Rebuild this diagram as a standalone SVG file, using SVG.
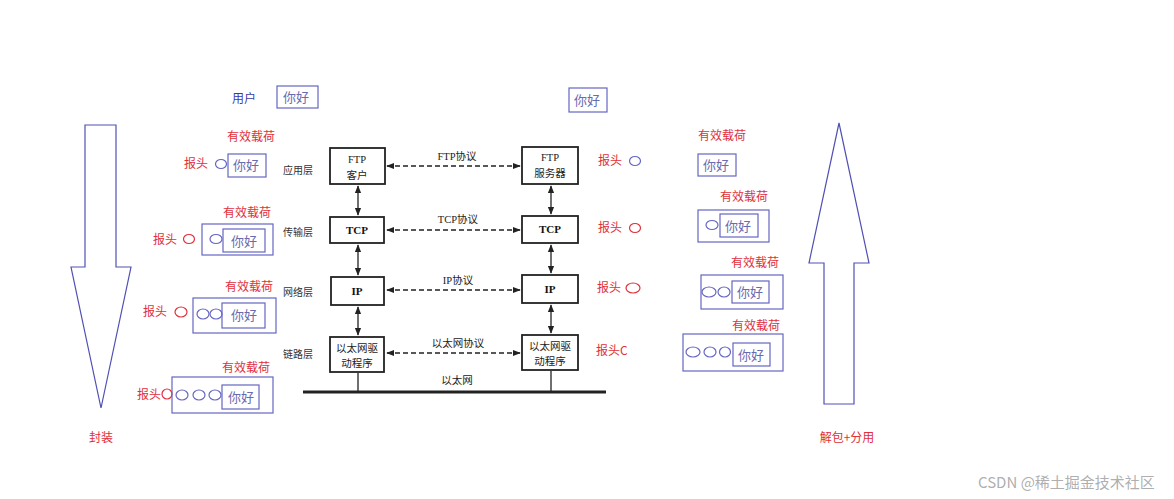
<svg xmlns="http://www.w3.org/2000/svg" width="1174" height="499" viewBox="0 0 1174 499">
<defs>
<marker id="ah" viewBox="0 0 10 10" refX="9" refY="5" markerWidth="8" markerHeight="8" markerUnits="userSpaceOnUse" orient="auto-start-reverse">
<path d="M0,1 L10,5 L0,9 Z" fill="#222"/>
</marker>
</defs>
<style>
.bg{fill:#fff}
.red{font-family:"Noto Sans CJK SC","Liberation Sans",sans-serif;font-size:12px;fill:#e0303c}
.blue{font-family:"Noto Sans CJK SC","Liberation Sans",sans-serif;font-size:12px;fill:#3a3aa8}
.ni{font-family:"Noto Sans CJK SC","Liberation Serif",serif;font-size:13px;fill:#6a6ab0}
.pbox{fill:none;stroke:#6666c4;stroke-width:1.2}
.ov{fill:none;stroke:#6666c4;stroke-width:1.2}
.ovr{fill:none;stroke:#e0303c;stroke-width:1.2}
.big{fill:#fff;stroke:#5050b4;stroke-width:1.2}
.lay{font-family:"Noto Sans CJK SC","Liberation Serif",serif;font-size:10px;fill:#333}
.box{fill:#fff;stroke:#222;stroke-width:1.8}
.bt{font-family:"Liberation Serif","Noto Sans CJK SC",serif;font-size:10.5px;fill:#222;text-anchor:middle}
.bb{font-family:"Liberation Serif","Noto Sans CJK SC",serif;font-size:11px;font-weight:bold;fill:#111;text-anchor:middle}
.pl{font-family:"Liberation Serif","Noto Sans CJK SC",serif;font-size:10.5px;fill:#222;text-anchor:middle}
.dash{stroke:#222;stroke-width:1.3;stroke-dasharray:5,3;fill:none}
.solid{stroke:#222;stroke-width:1.3;fill:none}
.wm{font-family:"Noto Sans CJK SC","Liberation Sans",sans-serif;font-size:15px;fill:#999;fill-opacity:0.8}
</style>
<rect class="bg" width="1174" height="499"/>

<g id="encap-arrow">
<path class="big" d="M85,125 L116,125 L116,267 L131,267 L101,408 L71,267 L85,267 Z"/>
<text class="red" x="101" y="442" text-anchor="middle">封装</text>
</g>
<g id="decap-arrow">
<path class="big" d="M839,123 L869,263 L854,263 L854,404 L824,404 L824,263 L809,263 Z"/>
<text class="red" x="847" y="442" text-anchor="middle">解包+分用</text>
</g>

<g id="user">
<text class="blue" x="232" y="103">用户</text>
<rect class="pbox" x="277" y="86" width="41" height="22"/>
<text class="ni" x="283" y="102">你好</text>
</g>
<g id="right-top">
<rect class="pbox" x="569" y="88" width="38" height="24"/>
<text class="ni" x="574" y="105">你好</text>
</g>

<g id="left-app">
<text class="red" x="227" y="141">有效载荷</text>
<text class="red" x="184" y="168">报头</text>
<ellipse class="ov" cx="221" cy="164" rx="5.5" ry="4.5"/>
<rect class="pbox" x="228" y="154" width="38" height="23"/>
<text class="ni" x="233" y="170">你好</text>
</g>
<g id="left-tcp">
<text class="red" x="223" y="217">有效载荷</text>
<text class="red" x="153" y="244">报头</text>
<ellipse class="ovr" cx="189" cy="239" rx="5.5" ry="4.5"/>
<rect class="pbox" x="202" y="224" width="71" height="31"/>
<ellipse class="ov" cx="216" cy="239" rx="6" ry="4.5"/>
<rect class="pbox" x="223" y="229" width="42" height="23"/>
<text class="ni" x="231" y="246">你好</text>
</g>
<g id="left-ip">
<text class="red" x="225" y="291">有效载荷</text>
<text class="red" x="143" y="316">报头</text>
<ellipse class="ovr" cx="181" cy="312" rx="6" ry="5"/>
<rect class="pbox" x="193" y="298" width="83" height="35"/>
<ellipse class="ov" cx="203" cy="314" rx="6" ry="5"/>
<ellipse class="ov" cx="216" cy="314" rx="6" ry="5"/>
<rect class="pbox" x="222" y="303" width="43" height="25"/>
<text class="ni" x="231" y="320">你好</text>
</g>
<g id="left-link">
<text class="red" x="222" y="372">有效载荷</text>
<text class="red" x="137" y="399">报头</text>
<ellipse class="ovr" cx="167" cy="394" rx="5" ry="5"/>
<rect class="pbox" x="172" y="377" width="101" height="36"/>
<ellipse class="ov" cx="182" cy="395" rx="6" ry="5"/>
<ellipse class="ov" cx="199" cy="395" rx="6" ry="5"/>
<ellipse class="ov" cx="215" cy="395" rx="6" ry="5"/>
<rect class="pbox" x="222" y="385" width="37" height="24"/>
<text class="ni" x="228" y="402">你好</text>
</g>

<g id="right-app">
<text class="red" x="698" y="140">有效载荷</text>
<text class="red" x="598" y="165">报头</text>
<ellipse class="ov" cx="635" cy="161" rx="5.5" ry="4.5"/>
<rect class="pbox" x="698" y="154" width="38" height="22"/>
<text class="ni" x="703" y="170">你好</text>
</g>
<g id="right-tcp">
<text class="red" x="720" y="201">有效载荷</text>
<text class="red" x="598" y="232">报头</text>
<ellipse class="ovr" cx="635" cy="228" rx="5.5" ry="4.5"/>
<rect class="pbox" x="698" y="210" width="71" height="32"/>
<ellipse class="ov" cx="712" cy="225" rx="6" ry="4.5"/>
<rect class="pbox" x="720" y="214" width="38" height="23"/>
<text class="ni" x="725" y="231">你好</text>
</g>
<g id="right-ip">
<text class="red" x="731" y="267">有效载荷</text>
<text class="red" x="597" y="292">报头</text>
<ellipse class="ovr" cx="633" cy="288" rx="7" ry="5"/>
<rect class="pbox" x="701" y="275" width="82" height="34"/>
<ellipse class="ov" cx="709" cy="292" rx="7" ry="5"/>
<ellipse class="ov" cx="724" cy="292" rx="6" ry="5"/>
<rect class="pbox" x="732" y="281" width="37" height="22"/>
<text class="ni" x="737" y="297">你好</text>
</g>
<g id="right-link">
<text class="red" x="732" y="330">有效载荷</text>
<text class="red" x="596" y="355">报头C</text>
<rect class="pbox" x="683" y="334" width="100" height="37"/>
<ellipse class="ov" cx="693" cy="352" rx="7" ry="5"/>
<ellipse class="ov" cx="710" cy="352" rx="6" ry="5"/>
<ellipse class="ov" cx="725" cy="352" rx="5.5" ry="5"/>
<rect class="pbox" x="733" y="343" width="37" height="23"/>
<text class="ni" x="738" y="360">你好</text>
</g>

<g id="layer-labels">
<text class="lay" x="283" y="174">应用层</text>
<text class="lay" x="283" y="236">传输层</text>
<text class="lay" x="283" y="296">网络层</text>
<text class="lay" x="283" y="358">链路层</text>
</g>

<g id="ftp-client">
<rect class="box" x="330" y="148" width="55" height="36"/>
<text class="bt" x="357" y="163">FTP</text>
<text class="bt" x="357" y="179">客户</text>
</g>
<g id="tcp-client">
<rect class="box" x="330" y="217" width="54" height="26"/>
<text class="bb" x="357" y="234">TCP</text>
</g>
<g id="ip-client">
<rect class="box" x="331" y="277" width="53" height="28"/>
<text class="bb" x="357" y="295">IP</text>
</g>
<g id="eth-client">
<rect class="box" x="330" y="337" width="54" height="35"/>
<text class="bt" x="357" y="352">以太网驱</text>
<text class="bt" x="357" y="367">动程序</text>
</g>
<g id="ftp-server">
<rect class="box" x="522" y="147" width="56" height="37"/>
<text class="bt" x="550" y="161">FTP</text>
<text class="bt" x="550" y="177">服务器</text>
</g>
<g id="tcp-server">
<rect class="box" x="522" y="216" width="56" height="27"/>
<text class="bb" x="550" y="233">TCP</text>
</g>
<g id="ip-server">
<rect class="box" x="522" y="275" width="56" height="28"/>
<text class="bb" x="550" y="293">IP</text>
</g>
<g id="eth-server">
<rect class="box" x="522" y="335" width="56" height="35"/>
<text class="bt" x="550" y="350">以太网驱</text>
<text class="bt" x="550" y="365">动程序</text>
</g>
<g id="ethernet">
<line x1="303" y1="392" x2="606" y2="392" stroke="#222" stroke-width="3"/>
<text class="pl" x="457" y="384">以太网</text>
</g>

<g id="connectors">
<line class="solid" x1="358" y1="186" x2="358" y2="215" marker-start="url(#ah)" marker-end="url(#ah)"/>
<line class="solid" x1="358" y1="245" x2="358" y2="275" marker-start="url(#ah)" marker-end="url(#ah)"/>
<line class="solid" x1="358" y1="307" x2="358" y2="335" marker-start="url(#ah)" marker-end="url(#ah)"/>
<line class="solid" x1="358" y1="373" x2="358" y2="391"/>
<line class="solid" x1="551" y1="186" x2="551" y2="214" marker-start="url(#ah)" marker-end="url(#ah)"/>
<line class="solid" x1="551" y1="245" x2="551" y2="273" marker-start="url(#ah)" marker-end="url(#ah)"/>
<line class="solid" x1="551" y1="305" x2="551" y2="333" marker-start="url(#ah)" marker-end="url(#ah)"/>
<line class="solid" x1="551" y1="371" x2="551" y2="391"/>
<line class="dash" x1="387" y1="166" x2="520" y2="166" marker-start="url(#ah)" marker-end="url(#ah)"/>
<line class="dash" x1="387" y1="230" x2="520" y2="230" marker-start="url(#ah)" marker-end="url(#ah)"/>
<line class="dash" x1="387" y1="290" x2="520" y2="290" marker-start="url(#ah)" marker-end="url(#ah)"/>
<line class="dash" x1="387" y1="353" x2="520" y2="353" marker-start="url(#ah)" marker-end="url(#ah)"/>
<text class="pl" x="457" y="160">FTP协议</text>
<text class="pl" x="458" y="223">TCP协议</text>
<text class="pl" x="458" y="284">IP协议</text>
<text class="pl" x="458" y="347">以太网协议</text>
</g>

<g id="watermark">
<text class="wm" x="978" y="488">CSDN @稀土掘金技术社区</text>
</g>
</svg>
